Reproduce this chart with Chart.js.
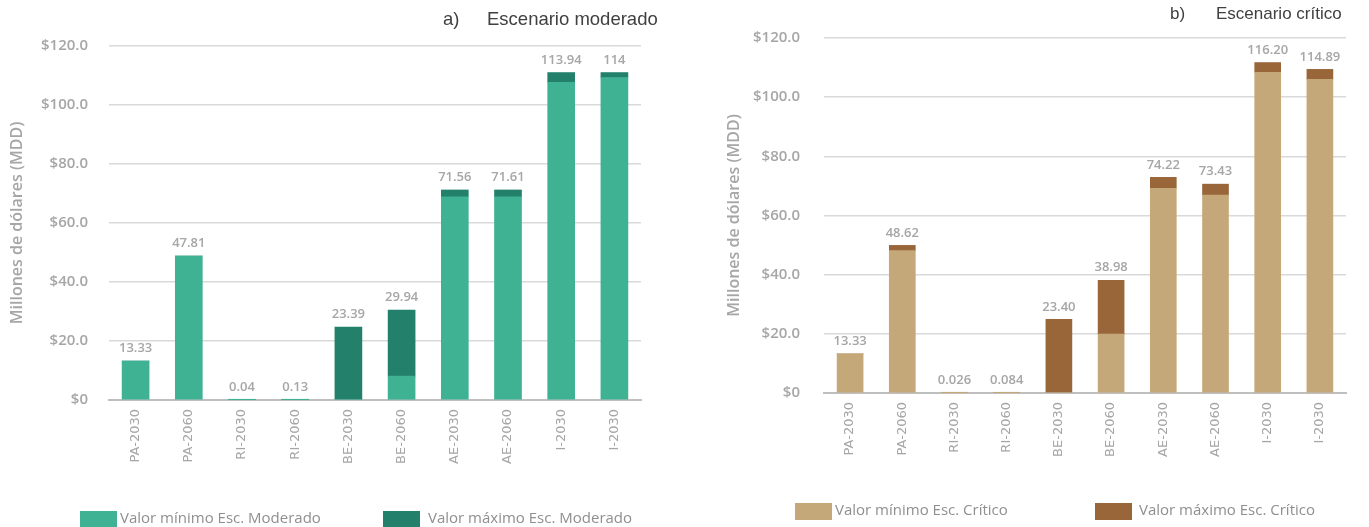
<!DOCTYPE html>
<html>
<head>
<meta charset="utf-8">
<title>Escenarios moderado y crítico</title>
<script src="https://cdn.jsdelivr.net/npm/chart.js"></script>
<style>
  html, body { margin: 0; padding: 0; background: #fff; overflow: hidden; }
  canvas { position: absolute; top: 0; }
  #chartA { left: 0; }
  #chartB { left: 684px; }
</style>
</head>
<body>
<canvas id="chartA" width="684" height="527"></canvas>
<canvas id="chartB" width="685" height="527"></canvas>

<script>
const categories = ['PA-2030', 'PA-2060', 'RI-2030', 'RI-2060', 'BE-2030', 'BE-2060', 'AE-2030', 'AE-2060', 'I-2030', 'I-2030'];
const yTickLabels = ['$0', '$20.0', '$40.0', '$60.0', '$80.0', '$100.0', '$120.0'];

// a) Escenario moderado
const minModerado = [13.2, 48.8, 0.04, 0.13, 0, 8.1, 68.9, 68.9, 107.7, 109.3];
const maxModerado = [0, 0, 0, 0, 24.7, 22.4, 2.3, 2.3, 3.3, 1.7];
const totalesModerado = ['13.33', '47.81', '0.04', '0.13', '23.39', '29.94', '71.56', '71.61', '113.94', '114'];

// b) Escenario crítico
const minCritico = [13.2, 48.1, 0.026, 0.084, 0, 19.9, 69.2, 66.9, 108.4, 106.0];
const maxCritico = [0, 1.8, 0, 0, 24.9, 18.2, 3.7, 3.7, 3.3, 3.4];
const totalesCritico = ['13.33', '48.62', '0.026', '0.084', '23.40', '38.98', '74.22', '73.43', '116.20', '114.89'];

const grey = '#a6a6a6';

// value labels above the stacks, panel title and the legend
const extras = {
  id: 'extras',
  afterDatasetsDraw(chart, args, opts) {
    const ctx = chart.ctx;
    const tops = chart.getDatasetMeta(1).data;
    ctx.save();
    ctx.font = '600 13px "Open Sans"';
    ctx.fillStyle = grey;
    ctx.textAlign = 'center';
    ctx.textBaseline = 'bottom';
    opts.totals.forEach((t, i) => ctx.fillText(t, tops[i].x, tops[i].y - 6));
    ctx.restore();
  },
  afterDraw(chart, args, opts) {
    const ctx = chart.ctx;
    ctx.save();
    ctx.textBaseline = 'middle';
    ctx.textAlign = 'left';
    ctx.fillStyle = '#404040';
    ctx.font = opts.titleFont;
    ctx.fillText(opts.letter, opts.letterX, opts.titleY);
    ctx.fillText(opts.title, opts.titleX, opts.titleY);

    ctx.font = '15px "Open Sans"';
    chart.data.datasets.forEach((ds, i) => {
      ctx.fillStyle = ds.backgroundColor;
      ctx.fillRect(opts.boxX[i], opts.legendY - 8, 37, 17);
      ctx.fillStyle = '#8f8f8f';
      ctx.fillText(ds.label, opts.textX[i], opts.legendY);
    });
    ctx.restore();
  }
};

function makeChart(id, mins, maxs, labels, colors, setup) {
  const canvas = document.getElementById(id);
  return new Chart(canvas, {
    type: 'bar',
    data: {
      labels: categories,
      datasets: [
        { label: labels[0], data: mins, backgroundColor: colors[0], barThickness: setup.bar },
        { label: labels[1], data: maxs, backgroundColor: colors[1], barThickness: setup.bar }
      ]
    },
    options: {
      responsive: false,
      animation: false,
      layout: {
        padding: { top: setup.top, right: canvas.width - setup.right, bottom: 527 - setup.bottom - 80, left: 0 }
      },
      plugins: {
        legend: { display: false },
        tooltip: { enabled: false },
        extras: setup.extras
      },
      scales: {
        x: {
          stacked: true,
          afterFit: s => { s.height = 80; },
          grid: { display: false, drawTicks: false },
          border: { display: true, color: '#bfbfbf', width: 2 },
          ticks: {
            minRotation: 90, maxRotation: 90, padding: 9,
            color: grey, font: { family: '"DejaVu Sans"', size: 13 }
          }
        },
        y: {
          stacked: true,
          min: 0, max: 120,
          afterFit: s => { s.width = setup.left; },
          grid: {
            drawTicks: false, lineWidth: 1.5,
            color: c => c.tick && c.tick.value === 0 ? 'rgba(0,0,0,0)' : '#d9d9d9'
          },
          border: { display: false },
          ticks: {
            stepSize: 20, padding: setup.tickPad,
            color: grey, font: { family: '"Open Sans"', size: 15, weight: '600' },
            callback: (v, i) => yTickLabels[i]
          },
          title: {
            display: true,
            text: 'Millones de dólares (MDD)',
            color: grey,
            font: { family: '"Open Sans"', size: 16, weight: '600' },
            padding: { top: setup.titlePad, bottom: 0 }
          }
        }
      }
    },
    plugins: [extras]
  });
}

makeChart('chartA', minModerado, maxModerado,
  ['Valor mínimo Esc. Moderado', 'Valor máximo Esc. Moderado'],
  ['#3eb293', '#23806b'],
  {
    left: 109, right: 641, top: 46, bottom: 400, bar: 27, tickPad: 21, titlePad: 8,
    extras: {
      totals: totalesModerado,
      letter: 'a)', title: 'Escenario moderado', letterX: 443, titleX: 487, titleY: 20,
      titleFont: '18.5px "Liberation Sans"',
      boxX: [80, 383], textX: [120, 428], legendY: 519
    }
  });

makeChart('chartB', minCritico, maxCritico,
  ['Valor mínimo Esc. Crítico', 'Valor máximo Esc. Crítico'],
  ['#c5a87a', '#996639'],
  {
    left: 140, right: 662, top: 38, bottom: 393, bar: 26, tickPad: 24, titlePad: 41,
    extras: {
      totals: totalesCritico,
      letter: 'b)', title: 'Escenario crítico', letterX: 486, titleX: 532, titleY: 14,
      titleFont: '17px "Liberation Sans"',
      boxX: [111, 411], textX: [151, 455], legendY: 511
    }
  });
</script>
</body>
</html>
